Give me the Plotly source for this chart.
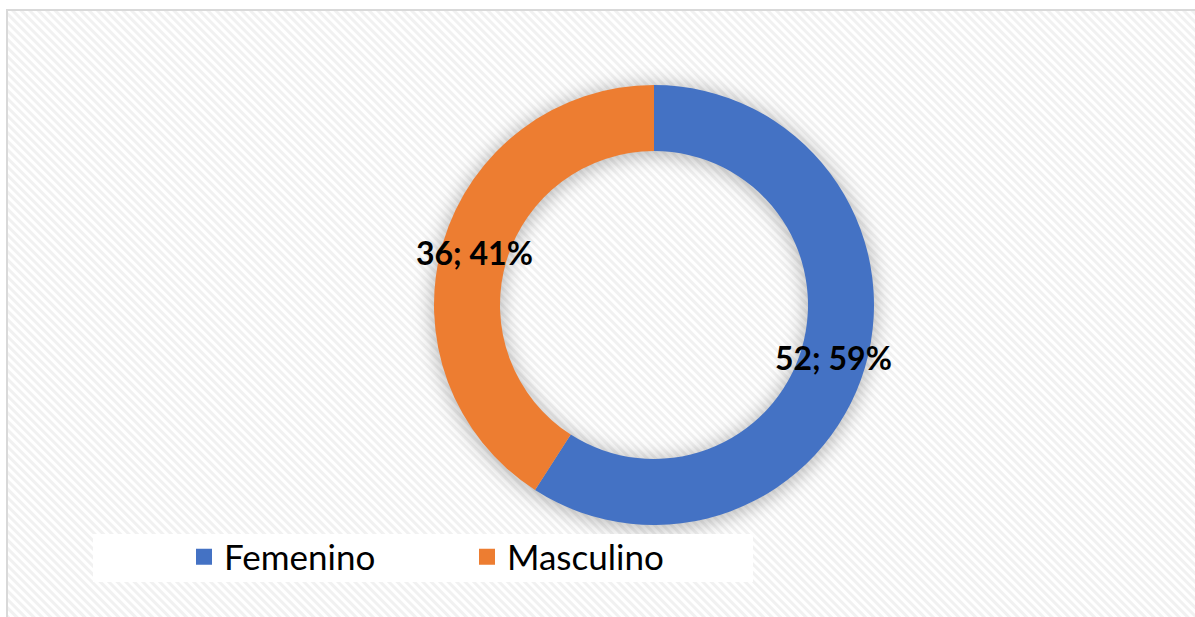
import base64
import math
import plotly.graph_objects as go

# ---- data ----
categories = ["Femenino", "Masculino"]
values = [52, 36]
colors = ["#4472C4", "#ED7D31"]

W, H = 1195, 617
cx, cy, R = 654, 305, 220  # pie centre / radius in pixels (layout)
HOLE = 0.70

# background: diagonal hatch + soft shadow ring behind the donut
svg = f'''<svg xmlns="http://www.w3.org/2000/svg" width="{W}" height="{H}" viewBox="0 0 {W} {H}">
<defs>
<pattern id="p" width="6" height="6" patternUnits="userSpaceOnUse" patternTransform="rotate(-45)">
<rect width="6" height="6" fill="#ffffff"/>
<rect width="3" height="6" fill="#f1f1f1"/>
</pattern>
<filter id="b" x="-50%" y="-50%" width="200%" height="200%"><feGaussianBlur stdDeviation="9"/></filter>
</defs>
<rect x="0" y="0" width="{W}" height="{H}" fill="#ffffff"/>
<rect x="7" y="10" width="{W}" height="{H}" fill="url(#p)"/>
<circle cx="{cx}" cy="{cy+2}" r="{R*(1+HOLE)/2}" fill="none" stroke="#000" stroke-opacity="0.25" stroke-width="{R*(1-HOLE)+6}" filter="url(#b)"/>
</svg>'''
src = "data:image/svg+xml;base64," + base64.b64encode(svg.encode()).decode()

fig = go.Figure()
fig.add_trace(go.Pie(
    labels=categories,
    values=values,
    marker=dict(colors=colors, line=dict(width=0)),
    hole=HOLE,
    sort=False,
    direction="clockwise",
    rotation=0,
    textinfo="none",
    domain=dict(x=[(cx - R) / W, (cx + R) / W], y=[(H - cy - R) / H, (H - cy + R) / H]),
    showlegend=False,
    hovertemplate="%{label}: %{value} (%{percent})<extra></extra>",
))

# legend entries with larger square swatches
for name, col in zip(categories, colors):
    fig.add_trace(go.Scatter(
        x=[None], y=[None], mode="markers", name=name,
        marker=dict(symbol="square", size=20, color=col),
        showlegend=True,
    ))

# data labels at the mid-angle of each ring segment
total = sum(values)
annotations = []
cum = 0
r_mid = R * (1 + HOLE) / 2
for v in values:
    theta = 2 * math.pi * (cum + v / 2) / total
    cum += v
    px = cx + r_mid * math.sin(theta)
    py = cy - r_mid * math.cos(theta)
    annotations.append(dict(
        x=px / W, y=1 - py / H, xref="paper", yref="paper",
        text=f"<b>{v}; {round(100 * v / total)}%</b>", showarrow=False,
        font=dict(family="Lato", size=32, color="#000000"),
        xanchor="center", yanchor="middle",
    ))

fig.update_layout(
    width=W, height=H,
    margin=dict(l=0, r=0, t=0, b=0),
    paper_bgcolor="white",
    plot_bgcolor="rgba(0,0,0,0)",
    xaxis=dict(visible=False),
    yaxis=dict(visible=False),
    annotations=annotations,
    images=[dict(source=src, xref="paper", yref="paper", x=0, y=1, sizex=1, sizey=1,
                 xanchor="left", yanchor="top", sizing="stretch", layer="below")],
    shapes=[
        dict(type="rect", xref="paper", yref="paper",
             x0=7 / W, x1=1.01, y0=-0.01, y1=(H - 10) / H,
             line=dict(color="#D9D9D9", width=2), fillcolor="rgba(0,0,0,0)", layer="below"),
        dict(type="rect", xref="paper", yref="paper",
             x0=93 / W, x1=753 / W, y0=(H - 582) / H, y1=(H - 534) / H,
             line=dict(width=0), fillcolor="white", layer="below"),
    ],
    legend=dict(
        orientation="h",
        x=184 / W, xanchor="left",
        y=(H - 557) / H, yanchor="middle",
        bgcolor="rgba(0,0,0,0)",
        font=dict(family="Lato", size=35, color="#000000"),
        entrywidth=238, entrywidthmode="pixels",
        itemclick=False,
    ),
)

fig.write_html("out.html", config={"displayModeBar": False},
               post_script="document.body.style.margin='0';")
